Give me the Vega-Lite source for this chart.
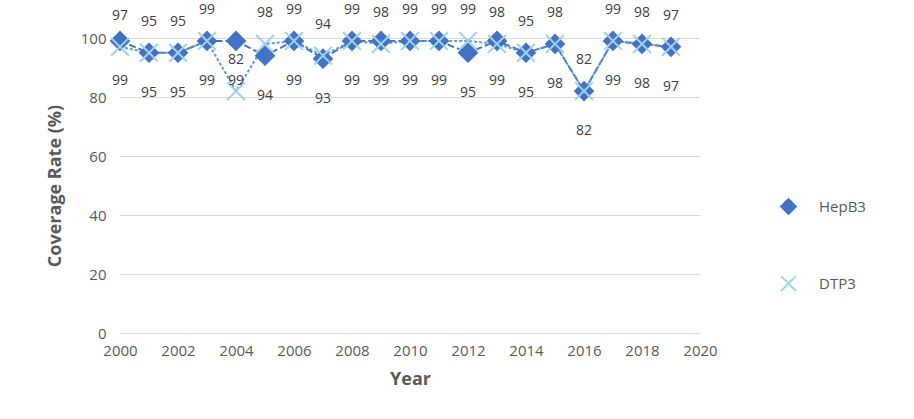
{
  "$schema": "https://vega.github.io/schema/vega-lite/v6.json",
  "width": 580,
  "height": 295,
  "autosize": {"type": "none"},
  "padding": {"left": 120, "top": 38, "right": 214, "bottom": 86},
  "background": "white",
  "data": {
    "values": [
      {"year": 2000, "series": "HepB3", "value": 99},
      {"year": 2001, "series": "HepB3", "value": 95},
      {"year": 2002, "series": "HepB3", "value": 95},
      {"year": 2003, "series": "HepB3", "value": 99},
      {"year": 2004, "series": "HepB3", "value": 99},
      {"year": 2005, "series": "HepB3", "value": 94},
      {"year": 2006, "series": "HepB3", "value": 99},
      {"year": 2007, "series": "HepB3", "value": 93},
      {"year": 2008, "series": "HepB3", "value": 99},
      {"year": 2009, "series": "HepB3", "value": 99},
      {"year": 2010, "series": "HepB3", "value": 99},
      {"year": 2011, "series": "HepB3", "value": 99},
      {"year": 2012, "series": "HepB3", "value": 95},
      {"year": 2013, "series": "HepB3", "value": 99},
      {"year": 2014, "series": "HepB3", "value": 95},
      {"year": 2015, "series": "HepB3", "value": 98},
      {"year": 2016, "series": "HepB3", "value": 82},
      {"year": 2017, "series": "HepB3", "value": 99},
      {"year": 2018, "series": "HepB3", "value": 98},
      {"year": 2019, "series": "HepB3", "value": 97},
      {"year": 2000, "series": "DTP3", "value": 97},
      {"year": 2001, "series": "DTP3", "value": 95},
      {"year": 2002, "series": "DTP3", "value": 95},
      {"year": 2003, "series": "DTP3", "value": 99},
      {"year": 2004, "series": "DTP3", "value": 82},
      {"year": 2005, "series": "DTP3", "value": 98},
      {"year": 2006, "series": "DTP3", "value": 99},
      {"year": 2007, "series": "DTP3", "value": 94},
      {"year": 2008, "series": "DTP3", "value": 99},
      {"year": 2009, "series": "DTP3", "value": 98},
      {"year": 2010, "series": "DTP3", "value": 99},
      {"year": 2011, "series": "DTP3", "value": 99},
      {"year": 2012, "series": "DTP3", "value": 99},
      {"year": 2013, "series": "DTP3", "value": 98},
      {"year": 2014, "series": "DTP3", "value": 95},
      {"year": 2015, "series": "DTP3", "value": 98},
      {"year": 2016, "series": "DTP3", "value": 82},
      {"year": 2017, "series": "DTP3", "value": 99},
      {"year": 2018, "series": "DTP3", "value": 98},
      {"year": 2019, "series": "DTP3", "value": 97}
    ]
  },
  "encoding": {
    "x": {
      "field": "year", "type": "quantitative",
      "scale": {"domain": [2000, 2020], "nice": false, "zero": false},
      "axis": {
        "title": "Year", "titleFontWeight": "bold", "titleFontSize": 18, "titleColor": "#595959", "titlePadding": 12,
        "values": [2000, 2002, 2004, 2006, 2008, 2010, 2012, 2014, 2016, 2018, 2020],
        "format": "d", "labelFontSize": 15, "labelColor": "#595959", "labelPadding": 10, "labelFlush": false,
        "grid": false, "ticks": false, "domain": false
      }
    },
    "y": {
      "field": "value", "type": "quantitative",
      "scale": {"domain": [0, 100], "nice": false},
      "axis": {
        "title": "Coverage Rate (%)", "titleFontWeight": "bold", "titleFontSize": 18, "titleColor": "#595959", "titlePadding": 16,
        "values": [0, 20, 40, 60, 80, 100], "labelFontSize": 15, "labelColor": "#595959", "labelPadding": 14,
        "grid": true, "gridColor": "#d9d9d9", "gridWidth": 1, "ticks": false, "domain": false
      }
    }
  },
  "layer": [
    {
      "transform": [{"filter": "datum.series === 'HepB3'"}],
      "mark": {"type": "line", "strokeWidth": 2, "color": "#4472C4", "strokeDash": [7, 3]},
      "encoding": {}
    },
    {
      "transform": [{"filter": "datum.series === 'DTP3'"}],
      "mark": {"type": "line", "strokeWidth": 2, "color": "#5B9BD5", "strokeDash": [3, 2]},
      "encoding": {}
    },
    {
      "mark": {"type": "point", "size": 320, "strokeWidth": 2, "opacity": 1},
      "encoding": {
        "shape": {"field": "series", "type": "nominal", "scale": {"domain": ["HepB3", "DTP3"], "range": ["diamond", "M-1,-1L1,1M-1,1L1,-1"]}, "legend": {"title": null}},
        "fill": {"field": "series", "type": "nominal", "scale": {"domain": ["HepB3", "DTP3"], "range": ["#4472C4", "transparent"]}, "legend": {"title": null}},
        "stroke": {"field": "series", "type": "nominal", "scale": {"domain": ["HepB3", "DTP3"], "range": ["#4472C4", "#9DD3E6"]}, "legend": {"title": null}}
      }
    },
    {
      "transform": [{"filter": "datum.series === 'DTP3'"}],
      "mark": {"type": "text", "dy": -31, "fontSize": 14, "color": "#404040"},
      "encoding": {"text": {"field": "value", "type": "quantitative"}}
    },
    {
      "transform": [{"filter": "datum.series === 'HepB3'"}],
      "mark": {"type": "text", "dy": 40, "fontSize": 14, "color": "#404040"},
      "encoding": {"text": {"field": "value", "type": "quantitative"}}
    }
  ],
  "config": {
    "font": "Open Sans",
    "view": {"stroke": null},
    "legend": {
      "orient": "none", "legendX": 660, "legendY": 160, "padding": 0,
      "labelFontSize": 15, "labelColor": "#595959", "rowPadding": 54,
      "symbolSize": 220, "symbolStrokeWidth": 2, "labelOffset": 22
    }
  }
}
